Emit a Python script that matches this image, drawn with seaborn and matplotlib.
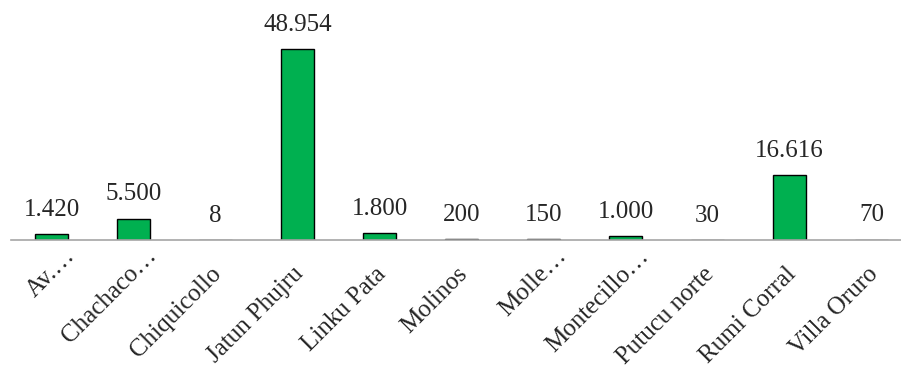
import matplotlib
matplotlib.use("Agg")
import matplotlib.pyplot as plt
from matplotlib.transforms import offset_copy
import seaborn as sns
import pandas as pd

categories = ["Av.…", "Chachaco…", "Chiquicollo", "Jatun Phujru", "Linku Pata",
              "Molinos", "Molle…", "Montecillo…", "Putucu norte", "Rumi Corral",
              "Villa Oruro"]
values = [1420, 5500, 8, 48954, 1800, 200, 150, 1000, 30, 16616, 70]

df = pd.DataFrame({"comunidad": categories, "valor": values})

sns.set_style("white")
plt.rcParams["font.family"] = ["Liberation Serif", "DejaVu Serif"]

fig = plt.figure(figsize=(9.01, 3.66), dpi=100)
# plot area runs a little past the right edge, as in the original
ax = fig.add_axes([10.5 / 901, 126 / 366, 902 / 901, 240 / 366])

sns.barplot(data=df, x="comunidad", y="valor", color="#00B050",
            edgecolor="black", linewidth=1, width=0.40, saturation=1, ax=ax)

def fmt(v):
    return f"{v:,}".replace(",", ".")

for p, v in zip(ax.patches, values):
    ax.text(p.get_x() + p.get_width() / 2, p.get_height() + 3400, fmt(v),
            ha="center", va="bottom", fontsize=18)

ax.set_ylim(0, 48954 * 240 / 191)
ax.set_xlim(-0.5, len(categories) - 0.5)
ax.set_yticks([])
ax.set_xlabel("")
ax.set_ylabel("")
for s in ["top", "right", "left"]:
    ax.spines[s].set_visible(False)
ax.spines["bottom"].set_color("#A6A6A6")
ax.spines["bottom"].set_linewidth(1.2)
ax.tick_params(axis="x", length=0)
ax.set_xticklabels([])

# category labels, rotated like Excel; truncated ones sit a bit further out
base = ax.get_xaxis_transform()
for i, name in enumerate(categories):
    if name.endswith("…"):
        tr = offset_copy(base, fig=fig, x=12, y=-5, units="dots")
    else:
        tr = offset_copy(base, fig=fig, x=-5, y=-23, units="dots")
    ax.text(i, 0, name, transform=tr, rotation=45, rotation_mode="anchor",
            ha="right", va="top", fontsize=18, clip_on=False)

fig.savefig("out.png", dpi=100)
